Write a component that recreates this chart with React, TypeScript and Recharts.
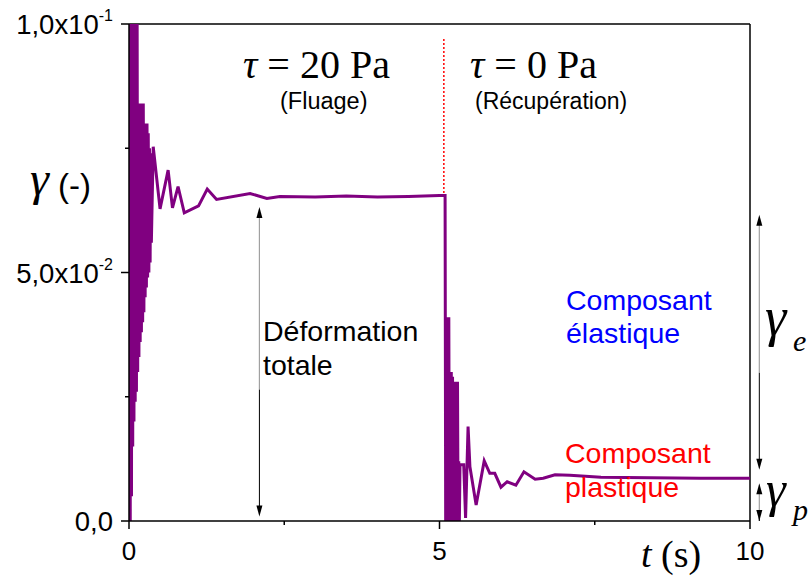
import React from 'react';
import { LineChart, Line, XAxis, YAxis, ReferenceLine } from 'recharts';

// Creep phase (tau = 20 Pa): time (s) and strain (-)
const creepTime = [
  0, 0.01, 0.02, 0.03, 0.04, 0.05, 0.06, 0.07, 0.08, 0.09,
  0.1, 0.11, 0.12, 0.13, 0.14, 0.15, 0.16, 0.17, 0.18, 0.19,
  0.2, 0.21, 0.22, 0.23, 0.24, 0.25, 0.26, 0.27, 0.28, 0.29,
  0.3, 0.31, 0.32, 0.33, 0.34, 0.35, 0.36,
  0.39, 0.5, 0.63, 0.7, 0.79, 0.89, 1.12, 1.26, 1.41, 1.95, 2.22, 2.43,
  3.0, 3.5, 4.0, 4.5, 5.0, 5.09,
];
const creepStrain = [
  0, 0.12, 0, 0.12, 0.005, 0.12, 0.015, 0.12, 0.02, 0.12,
  0.024, 0.12, 0.026, 0.11, 0.03, 0.084, 0.033, 0.084, 0.036, 0.084,
  0.038, 0.084, 0.04, 0.084, 0.042, 0.08, 0.045, 0.08, 0.047, 0.08,
  0.049, 0.078, 0.05, 0.075, 0.052, 0.074, 0.056,
  0.0753, 0.0628, 0.0706, 0.063, 0.0673, 0.062, 0.0634, 0.0668, 0.0647, 0.0659, 0.0649, 0.0653,
  0.0652, 0.0654, 0.0652, 0.0653, 0.0655, 0.0655,
];

// Recovery phase (tau = 0 Pa)
const recoveryTime = [
  5.1, 5.11, 5.12, 5.13, 5.14, 5.15, 5.16, 5.17, 5.18, 5.19,
  5.2, 5.21, 5.22, 5.23, 5.24, 5.25, 5.26, 5.27, 5.28, 5.29,
  5.3, 5.31, 5.32, 5.33,
  5.39, 5.42, 5.46, 5.49, 5.59, 5.72, 5.81, 5.89, 5.99, 6.09, 6.23,
  6.36, 6.54, 6.67, 6.86, 7.1, 7.6, 8.4, 9.2, 10,
];
const recoveryStrain = [
  -0.005, 0.041, -0.005, 0.041, -0.005, 0.041, -0.005, 0.03, -0.005, 0.03,
  -0.005, 0.029, -0.005, 0.028, -0.005, 0.028, -0.004, 0.028, -0.003, 0.028,
  -0.002, 0.012, 0.0, 0.0113,
  0.0113, 0.0006, 0.019, 0.0109, 0.0032, 0.0121, 0.0096, 0.0096, 0.0068, 0.0079, 0.0072,
  0.0099, 0.0084, 0.0086, 0.0093, 0.0092, 0.0088, 0.0087, 0.0086, 0.0086,
];

const xTicks = [0, 2.5, 5, 7.5, 10];
const xMajorLabels: Record<string, string> = { '0': '0', '5': '5', '10': '10' };
const yTicks = [0, 0.025, 0.05, 0.075, 0.1];
const yMantissa: Record<string, string> = { '0': '0,0', '0.05': '5,0x10', '0.1': '1,0x10' };
const yExponent: Record<string, string> = { '0': '', '0.05': '-2', '0.1': '-1' };

const data = [
  ...creepTime.map((t, i) => ({ t, g: creepStrain[i] })),
  ...recoveryTime.map((t, i) => ({ t, g: recoveryStrain[i] })),
];

const SANS = '"Liberation Sans", Arial, sans-serif';
const SERIF = '"Liberation Serif", "Times New Roman", serif';

const XTick = (props: any) => {
  const { x, y, payload } = props;
  const key = String(payload.value);
  const label = xMajorLabels[key];
  const major = label !== undefined;
  return (
    <g>
      <line x1={x} x2={x} y1={y} y2={y + (major ? 8 : 4)} stroke="#000" strokeWidth={1.5} />
      {major && (
        <text x={x} y={y + 39} textAnchor="middle" fontSize={26} fontFamily={SANS} fill="#000">
          {label}
        </text>
      )}
    </g>
  );
};

const YTick = (props: any) => {
  const { x, y, payload } = props;
  const key = String(payload.value);
  const m = yMantissa[key];
  const major = m !== undefined;
  return (
    <g>
      <line x1={x - (major ? 8 : 4)} x2={x} y1={y} y2={y} stroke="#000" strokeWidth={1.5} />
      {major && (
        <text x={x - 16} y={y + 10} textAnchor="end" fontSize={27.5} fontFamily={SANS} fill="#000">
          {m}
          {yExponent[key] ? (
            <tspan dy={-13} fontSize={16}>{yExponent[key]}</tspan>
          ) : null}
        </text>
      )}
    </g>
  );
};

const arrowShape = (split: number) => (props: any) => {
  const { x1, y1, y2 } = props;
  const top = Math.min(y1, y2);
  const bot = Math.max(y1, y2);
  const x = x1;
  const mid = top + (bot - top) * split;
  return (
    <g>
      <line x1={x} x2={x} y1={top + 6} y2={mid} stroke="#a0a0a0" strokeWidth={1.2} />
      <line x1={x} x2={x} y1={mid} y2={bot - 6} stroke="#000" strokeWidth={1} />
      <polygon points={`${x},${top} ${x - 3},${top + 11} ${x + 3},${top + 11}`} fill="#000" />
      <polygon points={`${x},${bot} ${x - 3},${bot - 11} ${x + 3},${bot - 11}`} fill="#000" />
    </g>
  );
};

export default function App() {
  return (
    <div style={{ position: 'absolute', left: 0, top: 0, width: 811, height: 581, background: '#fff' }}>
      <LineChart
        width={811}
        height={581}
        data={data}
        margin={{ top: 24, right: 61, bottom: 0, left: 0 }}
      >
        <XAxis
          dataKey="t"
          type="number"
          domain={[0, 10]}
          ticks={xTicks}
          allowDataOverflow
          height={60}
          tickSize={0}
          tickMargin={0}
          tickLine={false}
          axisLine={{ stroke: '#000', strokeWidth: 1.5 }}
          tick={<XTick />}
          interval={0}
        />
        <YAxis
          type="number"
          domain={[0, 0.1]}
          ticks={yTicks}
          allowDataOverflow
          width={129}
          tickSize={0}
          tickMargin={0}
          tickLine={false}
          axisLine={{ stroke: '#000', strokeWidth: 1.5 }}
          tick={<YTick />}
          interval={0}
        />
        <ReferenceLine y={0.1} stroke="#000" strokeWidth={1.5} />
        <ReferenceLine x={10} stroke="#000" strokeWidth={1.5} />
        <ReferenceLine
          segment={[{ x: 5.07, y: 0.066 }, { x: 5.07, y: 0.0974 }]}
          stroke="#ff0000"
          strokeWidth={1.5}
          strokeDasharray="2 2"
          ifOverflow="visible"
        />
        <Line
          dataKey="g"
          type="linear"
          stroke="#800080"
          strokeWidth={3}
          dot={false}
          isAnimationActive={false}
        />
        <ReferenceLine
          segment={[{ x: 2.1, y: 0.0632 }, { x: 2.1, y: 0.0009 }]}
          ifOverflow="visible"
          shape={arrowShape(0.59)}
        />
        <ReferenceLine
          segment={[{ x: 10.15, y: 0.0616 }, { x: 10.15, y: 0.0103 }]}
          ifOverflow="visible"
          shape={arrowShape(0.62)}
        />
        <ReferenceLine
          segment={[{ x: 10.15, y: 0.0076 }, { x: 10.15, y: 0.0 }]}
          ifOverflow="visible"
          shape={arrowShape(1)}
        />
      </LineChart>
      <svg
        width={811}
        height={581}
        style={{ position: 'absolute', left: 0, top: 0, pointerEvents: 'none' }}
      >
        <text x={243} y={78} fontSize={40} fontFamily={SERIF} fill="#000">
          <tspan fontStyle="italic">τ</tspan> = 20 Pa
        </text>
        <text x={280} y={109} fontSize={23.5} fontFamily={SANS} fill="#000">(Fluage)</text>
        <text x={470} y={78} fontSize={40} fontFamily={SERIF} fill="#000">
          <tspan fontStyle="italic">τ</tspan> = 0 Pa
        </text>
        <text x={475} y={109} fontSize={23} fontFamily={SANS} fill="#000">(Récupération)</text>

        <text x={30} y={195} fontSize={48} fontFamily={SERIF} fontStyle="italic" fill="#000">γ</text>
        <text x={58} y={197} fontSize={33} fontFamily={SANS} fill="#000">(-)</text>

        <text x={263} y={341} fontSize={28.5} fontFamily={SANS} fill="#000">Déformation</text>
        <text x={263} y={375} fontSize={28.5} fontFamily={SANS} fill="#000">totale</text>

        <text x={566} y={310} fontSize={28.5} fontFamily={SANS} fill="#0000ff">Composant</text>
        <text x={566} y={343} fontSize={28.5} fontFamily={SANS} fill="#0000ff">élastique</text>
        <text x={565} y={463} fontSize={28.5} fontFamily={SANS} fill="#ff0000">Composant</text>
        <text x={565} y={497} fontSize={28.5} fontFamily={SANS} fill="#ff0000">plastique</text>

        <text x={765} y={335} fontSize={54} fontFamily={SERIF} fontStyle="italic" fill="#000">γ</text>
        <text x={793} y={351} fontSize={30} fontFamily={SERIF} fontStyle="italic" fill="#000">e</text>
        <text x={766} y={506} fontSize={50} fontFamily={SERIF} fontStyle="italic" fill="#000">γ</text>
        <text x={793} y={520} fontSize={30} fontFamily={SERIF} fontStyle="italic" fill="#000">p</text>

        <text x={641} y={567} fontSize={38} fontFamily={SERIF} fill="#000">
          <tspan fontStyle="italic">t</tspan> (s)
        </text>
      </svg>
    </div>
  );
}
